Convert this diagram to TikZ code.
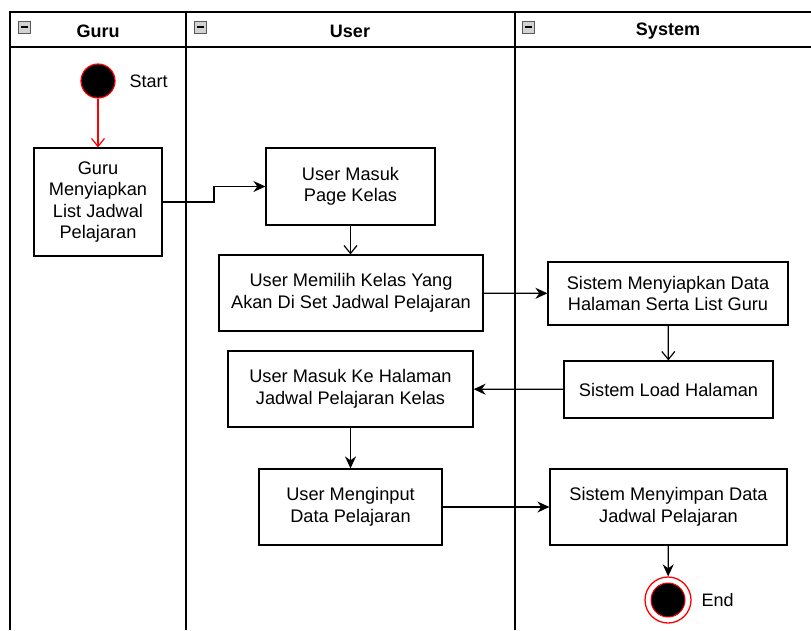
\documentclass[tikz,border=0pt]{standalone}
\usepackage{fontspec}
\setmainfont{Liberation Sans}
\usetikzlibrary{arrows.meta}
\begin{document}
\begin{tikzpicture}[x=1pt,y=-1pt,
  act/.style={draw=black,line width=1.2pt,fill=white,align=center,inner sep=0pt,
    font=\fontsize{18.2}{21.5}\selectfont},
  flow/.style={draw=black,line width=1.2pt,-{Stealth[length=12pt,width=11pt]}},
  openflow/.style={draw=black,line width=1.2pt,-{Straight Barb[length=8pt,width=13pt,line width=1.2pt]}},
  lanehead/.style={font=\fontsize{18}{20}\bfseries\selectfont},
  lbl/.style={font=\fontsize{18}{20}\selectfont,anchor=west},
  minusbox/.style={draw=gray!70!black,fill=gray!35,line width=0.6pt,minimum size=12pt,inner sep=0pt}]
\useasboundingbox (0,0) rectangle (811,630);
\fill[white] (0,0) rectangle (811,630);

% swimlane frame
\draw[line width=1.3pt] (10,630) -- (10,12) -- (811,12);
\draw[line width=1.3pt] (10,47) -- (811,47);
\draw[line width=1.3pt] (186,12) -- (186,630);
\draw[line width=1.3pt] (515,12) -- (515,630);

% lane headers
\node[lanehead] (hguru) at (98,31) {Guru};
\node[lanehead] (huser) at (350,31) {User};
\node[lanehead] (hsys) at (668,31) {System};
\foreach \n/\x in {mguru/24,muser/200,msys/528}{
  \node[minusbox] (\n) at (\x,27) {};
  \draw[line width=1.2pt] ([xshift=-3.5pt]\n.center) -- ([xshift=3.5pt]\n.center);
}

% start and end
\node[circle,fill=black,draw=red,line width=1.2pt,minimum size=34pt,inner sep=0pt] (start) at (98,81) {};
\node[lbl] (startlbl) at (126,81) {Start};
\node[circle,draw=red,line width=1.3pt,fill=white,minimum size=46pt,inner sep=0pt] (endo) at (668,600) {};
\node[circle,fill=black,draw=red,line width=1pt,minimum size=34pt,inner sep=0pt] (endi) at (668,600) {};
\node[lbl] (endlbl) at (698,600) {End};

% activities
\node[act,minimum width=128pt,minimum height=108pt] (guru) at (98,202) {Guru\\Menyiapkan\\List Jadwal\\Pelajaran};
\node[act,minimum width=169pt,minimum height=77pt] (masuk) at (350.5,186.5) {User Masuk\\Page Kelas};
\node[act,minimum width=264pt,minimum height=76pt] (pilih) at (351,293) {User Memilih Kelas Yang\\Akan Di Set Jadwal Pelajaran};
\node[act,minimum width=240pt,minimum height=63pt] (siap) at (668,293.5) {Sistem Menyiapkan Data\\Halaman Serta List Guru};
\node[act,minimum width=209pt,minimum height=57pt] (load) at (668.5,389.5) {Sistem Load Halaman};
\node[act,minimum width=245pt,minimum height=76pt] (hal) at (350.5,389) {User Masuk Ke Halaman\\Jadwal Pelajaran Kelas};
\node[act,minimum width=183pt,minimum height=76pt] (input) at (350.5,507) {User Menginput\\Data Pelajaran};
\node[act,minimum width=237pt,minimum height=76pt] (simpan) at (668.5,507) {Sistem Menyimpan Data\\Jadwal Pelajaran};

% flows
\draw[line width=1.2pt,draw=red,-{Straight Barb[length=8pt,width=13pt,line width=1.2pt]}] (start) -- (guru);
\draw[flow] (guru.east) -- (214,202) |- (masuk.west);
\draw[openflow] (masuk) -- (masuk|-pilih.north);
\draw[flow] (pilih) -- (siap);
\draw[openflow] (siap) -- (load);
\draw[flow] (load) -- (hal);
\draw[flow] (hal) -- (hal|-input.north);
\draw[flow] (input) -- (simpan);
\draw[flow] (simpan) -- (endo);
\end{tikzpicture}
\end{document}
